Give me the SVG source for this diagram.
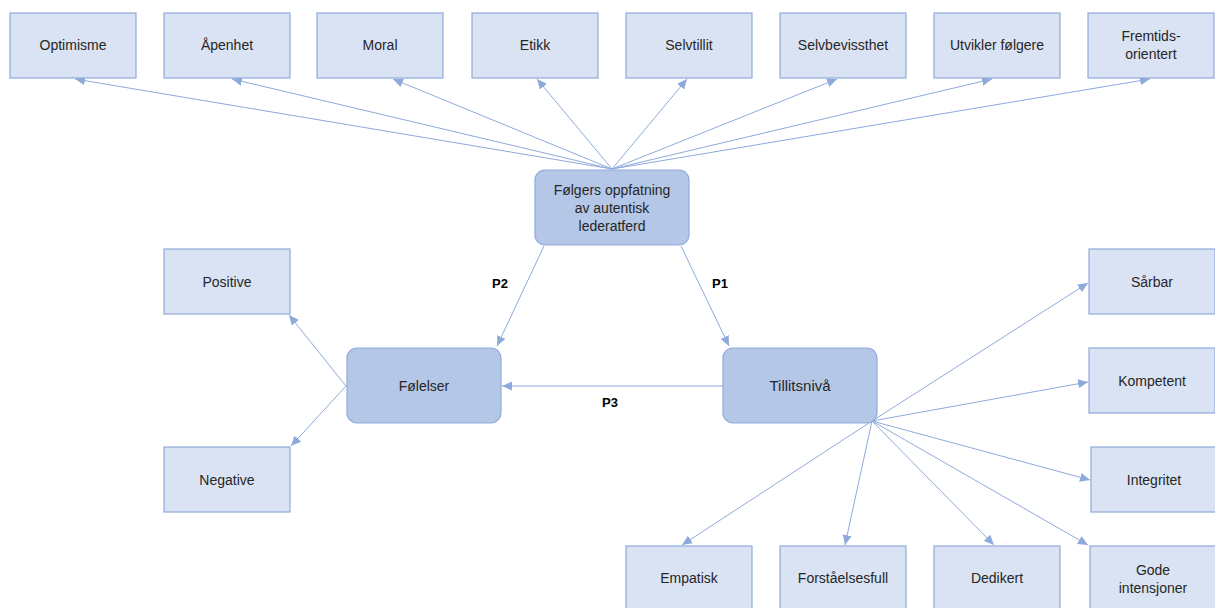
<svg xmlns="http://www.w3.org/2000/svg" width="1215" height="608" viewBox="0 0 1215 608">
<style>
.box{fill:#dae3f3;stroke:#8faadc;stroke-width:1.2}
.core{fill:#b4c7e7;stroke:#8faadc;stroke-width:1.2}
.t{font-family:"Liberation Sans",Arial,sans-serif;font-size:14px;fill:#262626;text-anchor:middle}
.s{font-size:14px}
.l{font-size:15px}
.p{font-family:"Liberation Sans",Arial,sans-serif;font-size:13px;font-weight:bold;fill:#000;text-anchor:middle}
.c{stroke:#8eaadb;stroke-width:1;fill:none;marker-end:url(#ah)}
</style>
<defs>
<marker id="ah" markerUnits="userSpaceOnUse" markerWidth="11" markerHeight="9" refX="10" refY="4.5" orient="auto" viewBox="0 0 11 9">
<path d="M0,0 L10,4.5 L0,9 z" fill="#8eaadb"/>
</marker>
</defs>
<rect width="1215" height="608" fill="#fff"/>
<g id="connectors">
<line class="c" x1="612" y1="169" x2="75" y2="79"/>
<line class="c" x1="612" y1="169" x2="232" y2="79"/>
<line class="c" x1="612" y1="169" x2="393" y2="79"/>
<line class="c" x1="612" y1="169" x2="537" y2="79"/>
<line class="c" x1="612" y1="169" x2="687" y2="79"/>
<line class="c" x1="612" y1="169" x2="837" y2="79"/>
<line class="c" x1="612" y1="169" x2="992" y2="79"/>
<line class="c" x1="612" y1="169" x2="1150" y2="79"/>
<line class="c" x1="544" y1="246" x2="497" y2="346"/>
<line class="c" x1="681" y1="246" x2="729" y2="346"/>
<line class="c" x1="723" y1="386" x2="502" y2="386"/>
<line class="c" x1="346" y1="386" x2="289" y2="315"/>
<line class="c" x1="346" y1="386" x2="291" y2="446"/>
<line class="c" x1="872" y1="421" x2="1088" y2="283"/>
<line class="c" x1="872" y1="421" x2="1088" y2="382"/>
<line class="c" x1="872" y1="421" x2="1090" y2="480"/>
<line class="c" x1="872" y1="421" x2="1088" y2="545"/>
<line class="c" x1="872" y1="421" x2="994" y2="545"/>
<line class="c" x1="872" y1="421" x2="845" y2="545"/>
<line class="c" x1="872" y1="421" x2="682" y2="545"/>
<text class="p" x="500" y="288">P2</text>
<text class="p" x="720" y="288">P1</text>
<text class="p" x="610" y="407">P3</text>
</g>
<g id="optimisme"><rect class="box" x="10" y="13" width="126" height="65"/><text class="t" x="73" y="50">Optimisme</text></g>
<g id="apenhet"><rect class="box" x="164" y="13" width="126" height="65"/><text class="t" x="227" y="50">Åpenhet</text></g>
<g id="moral"><rect class="box" x="317" y="13" width="126" height="65"/><text class="t" x="380" y="50">Moral</text></g>
<g id="etikk"><rect class="box" x="472" y="13" width="126" height="65"/><text class="t" x="535" y="50">Etikk</text></g>
<g id="selvtillit"><rect class="box" x="626" y="13" width="126" height="65"/><text class="t" x="689" y="50">Selvtillit</text></g>
<g id="selvbevissthet"><rect class="box" x="780" y="13" width="126" height="65"/><text class="t" x="843" y="50">Selvbevissthet</text></g>
<g id="utvikler"><rect class="box" x="934" y="13" width="126" height="65"/><text class="t" x="997" y="50">Utvikler følgere</text></g>
<g id="fremtids"><rect class="box" x="1088" y="13" width="126" height="65"/><text class="t" x="1151" y="41">Fremtids-</text><text class="t" x="1151" y="59">orientert</text></g>
<g id="folgers"><rect class="core" x="535" y="170" width="154" height="75" rx="10"/><text class="t s" x="612" y="195">Følgers oppfatning</text><text class="t s" x="612" y="213">av autentisk</text><text class="t s" x="612" y="231">lederatferd</text></g>
<g id="folelser"><rect class="core" x="347" y="348" width="154" height="75" rx="10"/><text class="t s" x="424" y="391">Følelser</text></g>
<g id="tillitsniva"><rect class="core" x="723" y="348" width="154" height="75" rx="10"/><text class="t l" x="800" y="391">Tillitsnivå</text></g>
<g id="positive"><rect class="box" x="164" y="249" width="126" height="65"/><text class="t" x="227" y="287">Positive</text></g>
<g id="negative"><rect class="box" x="164" y="447" width="126" height="65"/><text class="t" x="227" y="485">Negative</text></g>
<g id="sarbar"><rect class="box" x="1089" y="249" width="126" height="65"/><text class="t" x="1152" y="287">Sårbar</text></g>
<g id="kompetent"><rect class="box" x="1089" y="348" width="126" height="65"/><text class="t" x="1152" y="386">Kompetent</text></g>
<g id="integritet"><rect class="box" x="1091" y="447" width="126" height="65"/><text class="t" x="1154" y="485">Integritet</text></g>
<g id="empatisk"><rect class="box" x="626" y="546" width="126" height="65"/><text class="t" x="689" y="583">Empatisk</text></g>
<g id="forstaelsesfull"><rect class="box" x="780" y="546" width="126" height="65"/><text class="t" x="843" y="583">Forståelsesfull</text></g>
<g id="dedikert"><rect class="box" x="934" y="546" width="126" height="65"/><text class="t" x="997" y="583">Dedikert</text></g>
<g id="gode"><rect class="box" x="1090" y="546" width="126" height="65"/><text class="t" x="1153" y="575">Gode</text><text class="t" x="1153" y="593">intensjoner</text></g>
</svg>
